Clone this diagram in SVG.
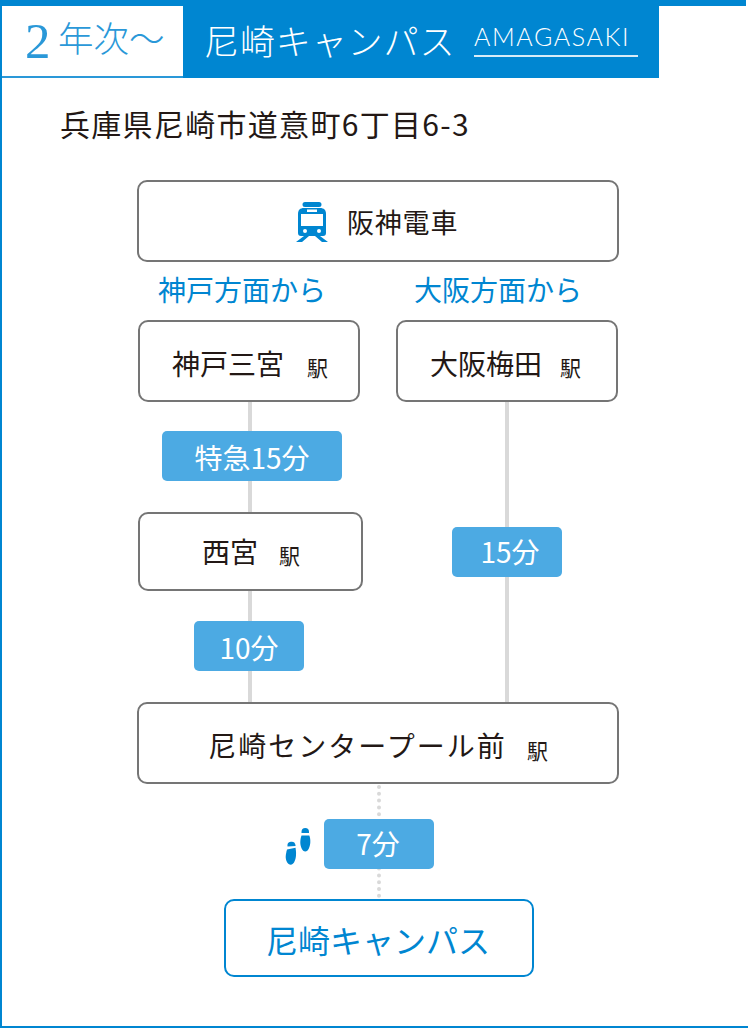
<svg xmlns="http://www.w3.org/2000/svg" width="748" height="1029" viewBox="0 0 748 1029">
<style>
text{font-family:"Noto Sans CJK JP","Noto Sans",sans-serif;fill:#231815}
.n{fill:#fff;stroke:#757575;stroke-width:2}
.lb{font-size:28px;text-anchor:middle}
.ek{font-size:21px}
.blue{fill:#0086d1}
.bt{font-size:28px;fill:#0086d1;text-anchor:middle}
.pill{fill:#4caae3}
.pt{font-size:28px;fill:#fff;text-anchor:middle}
.line{stroke:#d9d9d9;stroke-width:4;fill:none}
</style>
<rect width="748" height="1029" fill="#fff"/>
<g id="frame">
<path d="M1 6V1027H748" fill="none" stroke="#0086d1" stroke-width="2"/>
<rect x="0" y="0" width="746" height="6" class="blue"/>
</g>
<g id="header">
<rect x="183" y="0" width="476" height="78" class="blue"/>
<rect x="2" y="76" width="181" height="2" fill="#2a98d8"/>
<text x="25" y="58" style="font-family:'Liberation Serif',serif;font-size:51px;fill:#2a98d8">2</text>
<text x="58" y="52" style="font-size:35.500px;font-weight:300;fill:#2a98d8">年次〜</text>
<text x="204" y="55" style="font-size:35px;font-weight:300;fill:#fff;letter-spacing:.9px">尼崎キャンパス</text>
<text x="474" y="46" style="font-family:'Lato',sans-serif;font-size:25px;font-weight:300;fill:#fff;letter-spacing:1.6px">AMAGASAKI</text>
<rect x="474" y="55" width="164" height="2" fill="#d7ecf8"/>
</g>
<text id="address" x="60" y="136" style="font-size:30px;letter-spacing:1.3px">兵庫県尼崎市道意町6丁目6-3</text>
<g id="connectors">
<path class="line" d="M250 402V703"/>
<path class="line" d="M507 402V703"/>
<path d="M379 787V900" fill="none" stroke="#d9d9d9" stroke-width="4" stroke-linecap="round" stroke-dasharray="0 6.800"/>
</g>
<g id="hanshin">
<rect class="n" x="138" y="181" width="480" height="80" rx="9"/>
<path class="blue" d="M305 202h14a2 2 0 0 1 0 5h-14a2 2 0 0 1 0-5zM304 208h16c4 0 6 2 6 6v19c0 2-1 3-3 3h-3l8 6h-6l-7-6h-6l-7 6h-6l8-6h-3c-2 0-3-1-3-3v-19c0-4 2-6 6-6z"/>
<rect x="307" y="209.500" width="10" height="2.500" fill="#fff"/>
<rect x="301" y="214" width="22" height="12" fill="#fff"/>
<circle cx="305" cy="231" r="2" fill="#fff"/><circle cx="319" cy="231" r="2" fill="#fff"/>
<text x="347" y="232.500" style="font-size:27px;letter-spacing:.8px">阪神電車</text>
</g>
<text id="from-kobe" class="bt" x="242" y="300.500">神戸方面から</text>
<text id="from-osaka" class="bt" x="498" y="300.500">大阪方面から</text>
<g id="sannomiya"><rect class="n" x="139" y="321" width="220" height="80" rx="9"/><text class="lb" x="228" y="374.500">神戸三宮</text><text class="ek" x="307" y="376">駅</text></g>
<g id="umeda"><rect class="n" x="397" y="321" width="220" height="80" rx="9"/><text class="lb" x="486" y="374.500">大阪梅田</text><text class="ek" x="560" y="376">駅</text></g>
<g id="nishinomiya"><rect class="n" x="139" y="513" width="223" height="77" rx="9"/><text class="lb" x="230" y="562.500">西宮</text><text class="ek" x="279" y="564">駅</text></g>
<g id="center-pool"><rect class="n" x="138" y="703" width="480" height="80" rx="9"/><text class="lb" x="357.500" y="756.500" style="letter-spacing:2px">尼崎センタープール前</text><text class="ek" x="527" y="759">駅</text></g>
<g id="campus"><rect x="225" y="900" width="308" height="76" rx="9" fill="#fff" stroke="#0086d1" stroke-width="2"/><text x="378" y="952.500" style="font-size:32px;fill:#0086d1;text-anchor:middle">尼崎キャンパス</text></g>
<g id="t1"><rect class="pill" x="162" y="431" width="180" height="50" rx="5"/><text class="pt" x="252" y="469">特急15分</text></g>
<g id="t2"><rect class="pill" x="194" y="621" width="110" height="50" rx="5"/><text class="pt" x="249" y="659">10分</text></g>
<g id="t3"><rect class="pill" x="452" y="527" width="110" height="50" rx="5"/><text class="pt" x="510" y="563">15分</text></g>
<g id="t4"><rect class="pill" x="324" y="819" width="110" height="50" rx="5"/><text class="pt" x="378" y="855">7分</text></g>
<g id="steps" class="blue">
<path d="M287.500 846.500a4 4 0 0 1 8-1.500v1z"/><path d="M287 849.500l8.500-1.800c.6 3 .8 7 .2 10-.6 3-2.200 7-5 7-3 0-5-4-5-8 0-2 .7-5 1.300-7.200z"/>
<path d="M301.500 832a3.700 4 0 0 1 7.500 0v1h-7.500z"/><path d="M301.500 835.500h7.800c.8 2 1.200 4 1 7-.2 4-2 9-5 9-3 0-5-5-5-9 0-2.500.5-5 1.200-7z"/>
</g>
</svg>
